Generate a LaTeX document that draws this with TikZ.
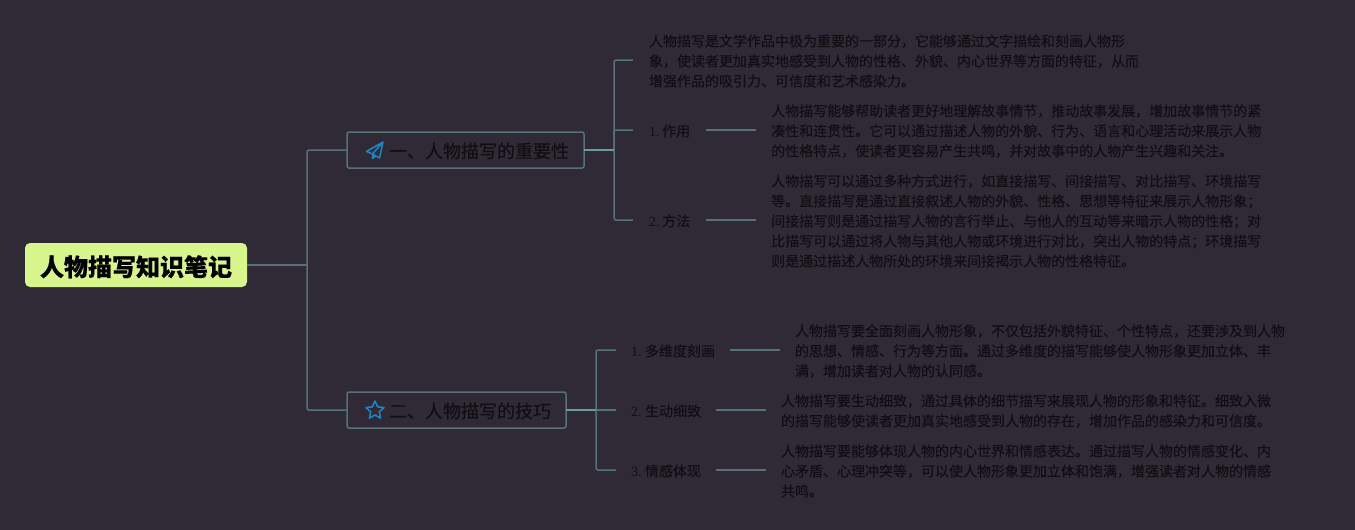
\documentclass[tikz,border=0pt]{standalone}
\usepackage{fontspec}
\setmainfont{Liberation Serif}
\newfontfamily\cjk[FakeBold=0.15]{Noto Sans CJK SC}
\newfontfamily\cjkroot[FakeBold=0.3]{Noto Sans CJK SC}
\usetikzlibrary{positioning,shapes.geometric}
\definecolor{canvas}{HTML}{2F2A35}
\definecolor{branch}{HTML}{557277}
\definecolor{branchlit}{HTML}{6C9C9A}
\definecolor{ink}{HTML}{0F0F13}
\definecolor{lime}{HTML}{D8F58E}
\definecolor{iconblue}{HTML}{1F86C6}
\tikzset{rootnode/.style={draw=none,fill=lime,rounded corners=5pt,minimum width=222pt,minimum height=44pt,
           inner sep=0pt,text height=22pt,text depth=0pt,font=\cjkroot\fontsize{24}{28}\selectfont\bfseries,text=black},
         topicbox/.style={draw=branch,line width=1.5pt,rounded corners=2pt,minimum height=36pt,inner sep=0pt,outer sep=0pt,
           text height=15.6pt,text depth=0pt,font=\cjk\fontsize{18}{22}\selectfont,text=ink,anchor=west},
         itemlabel/.style={inner xsep=16pt,inner ysep=2pt,outer sep=0pt,text height=12.6pt,text depth=0pt,
           font=\fontsize{14}{20}\selectfont,text=ink,anchor=west},
         detailtext/.style={inner xsep=15pt,inner ysep=0pt,outer sep=0pt,align=left,font=\cjk\fontsize{14}{20}\selectfont,text=ink},
         link/.style={draw=branch,line width=1.5pt,rounded corners=2pt},
         litlink/.style={draw=branchlit,line width=1.5pt},
         icon/.style={draw=iconblue,line width=1.5pt,line join=round}}
\begin{document}
\begin{tikzpicture}[x=1pt,y=-1pt]
\useasboundingbox[fill=canvas] (0,0) rectangle (1355,530);
% centre and the two topics
\node[rootnode] (root) at (136,265) {人物描写知识笔记};
\node[topicbox,minimum width=237pt] (imp) at (347,150) {\hspace{42pt}一、人物描写的重要性\hspace*{15pt}};
\node[topicbox,minimum width=219pt] (tech) at (347,410) {\hspace{42pt}二、人物描写的技巧\hspace*{15pt}};
\coordinate (trunk) at (307,265);
\coordinate (impbus) at (614,150);
\coordinate (techbus) at (596,410);
% first topic
\node[detailtext,anchor=west,inner xsep=16pt] (intro) at (633,61) {人物描写是文学作品中极为重要的一部分，它能够通过文字描绘和刻画人物形\\象，使读者更加真实地感受到人物的性格、外貌、内心世界等方面的特征，从而\\增强作品的吸引力、可信度和艺术感染力。};
\node[itemlabel] (use) at (633,130) {1.\hspace{2.7pt}{\cjk 作用}};
\node[itemlabel] (way) at (633,220) {2.\hspace{2.7pt}{\cjk 方法}};
\node[detailtext,right=50pt of use.east,anchor=west,yshift=-1pt] (usetext) {人物描写能够帮助读者更好地理解故事情节，推动故事发展，增加故事情节的紧\\凑性和连贯性。它可以通过描述人物的外貌、行为、语言和心理活动来展示人物\\的性格特点，使读者更容易产生共鸣，并对故事中的人物产生兴趣和关注。};
\node[detailtext,right=50pt of way.east,anchor=west,yshift=-1pt] (waytext) {人物描写可以通过多种方式进行，如直接描写、间接描写、对比描写、环境描写\\等。直接描写是通过直接叙述人物的外貌、性格、思想等特征来展示人物形象；\\间接描写则是通过描写人物的言行举止、与他人的互动等来暗示人物的性格；对\\比描写可以通过将人物与其他人物或环境进行对比，突出人物的特点；环境描写\\则是通过描述人物所处的环境来间接揭示人物的性格特征。};
% second topic
\node[itemlabel,inner xsep=15pt] (dim) at (616,350) {1.\hspace{3.5pt}{\cjk 多维度刻画}};
\node[itemlabel,inner xsep=15pt] (vivid) at (616,410) {2.\hspace{3.5pt}{\cjk 生动细致}};
\node[itemlabel,inner xsep=15pt] (feel) at (616,470) {3.\hspace{3.5pt}{\cjk 情感体现}};
\node[detailtext,right=50pt of dim.east,anchor=west,yshift=-1pt] (dimtext) {人物描写要全面刻画人物形象，不仅包括外貌特征、个性特点，还要涉及到人物\\的思想、情感、行为等方面。通过多维度的描写能够使人物形象更加立体、丰\\满，增加读者对人物的认同感。};
\node[detailtext,right=50pt of vivid.east,anchor=west,yshift=-1pt] (vividtext) {人物描写要生动细致，通过具体的细节描写来展现人物的形象和特征。细致入微\\的描写能够使读者更加真实地感受到人物的存在，增加作品的感染力和可信度。};
\node[detailtext,right=50pt of feel.east,anchor=west,yshift=-1pt] (feeltext) {人物描写要能够体现人物的内心世界和情感表达。通过描写人物的情感变化、内\\心矛盾、心理冲突等，可以使人物形象更加立体和饱满，增强读者对人物的情感\\共鸣。};
% connectors
\draw[link] (root.east) -- (trunk);
\draw[link] (trunk) |- (imp.west);
\draw[link] (trunk) |- (tech.west);
\draw[link] (impbus) |- ([yshift=1pt]intro.west);
\draw[link] (impbus) |- (use.west);
\draw[link] (impbus) |- (way.west);
\draw[link] (techbus) |- (dim.west);
\draw[link] (techbus) -- (vivid.west);
\draw[link] (techbus) |- (feel.west);
\draw[litlink] (imp.east) -- (impbus);
\draw[litlink] (tech.east) -- (techbus);
\draw[link] (use.east) -- (use.east -| usetext.west);
\draw[link] (way.east) -- (way.east -| waytext.west);
\draw[link] (dim.east) -- (dim.east -| dimtext.west);
\draw[link] (vivid.east) -- (vivid.east -| vividtext.west);
\draw[link] (feel.east) -- (feel.east -| feeltext.west);
% icons
\draw[icon] (383,142) -- (366.5,151.5) -- (372.5,154) -- cycle (383,142) -- (379.5,158) -- (372.5,154) -- (372.5,158.5) -- (375.5,156);
\node[icon,star,star points=5,star point ratio=2.1,minimum size=19pt,inner sep=0pt] (staricon) at (375,410.5) {};
\end{tikzpicture}
\end{document}
